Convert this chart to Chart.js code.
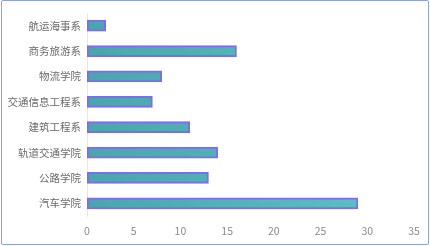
<!DOCTYPE html>
<html><head><meta charset="utf-8">
<script src="https://cdn.jsdelivr.net/npm/chart.js@4/dist/chart.umd.min.js"></script>
<style>
html,body{margin:0;padding:0;background:#fff;}
#wrap{position:relative;width:430px;height:246px;}
#frame{position:absolute;left:1px;top:0;width:426px;height:243px;border:1px solid #8ea2e0;border-radius:2px;pointer-events:none;}
canvas{position:absolute;left:0;top:0;}
</style></head>
<body>
<div id="wrap"><canvas id="c" width="430" height="246"></canvas><div id="frame"></div></div>
<script>
const categories = ['航运海事系','商务旅游系','物流学院','交通信息工程系','建筑工程系','轨道交通学院','公路学院','汽车学院'];
const values = [2,16,8,7,11,14,13,29];
const xTicks = [0,5,10,15,20,25,30,35];

const font = {family:"'Noto Sans CJK SC','Noto Sans',sans-serif", size:10.5};
new Chart(document.getElementById('c'), {
  type:'bar',
  data:{labels:categories, datasets:[{
    data:values,
    backgroundColor:(ctx)=>{
      const a = ctx.chart.chartArea;
      if(!a) return '#52b2b6';
      const g = ctx.chart.ctx.createLinearGradient(a.left,0,a.right,0);
      g.addColorStop(0,'#4aa6aa');
      g.addColorStop(1,'#5fc2c6');
      return g;
    },
    borderColor:'#7b6cf2',
    borderWidth:2,
    borderSkipped:false,
    barThickness:11
  }]},
  options:{
    indexAxis:'y',
    responsive:false,
    animation:false,
    layout:{padding:{top:13,right:16,left:0,bottom:0}},
    plugins:{legend:{display:false},tooltip:{enabled:false}},
    scales:{
      x:{min:0,max:35,
        afterBuildTicks:(s)=>{s.ticks = xTicks.map(v=>({value:v}));},
        grid:{display:false,drawTicks:false},border:{display:false},
        ticks:{color:'#8a8a8a',font:font,padding:9},
        afterFit:(s)=>{s.height=30;}
      },
      y:{grid:{display:false,drawTicks:false},border:{display:true,color:'#e6e6e6',width:1},
        ticks:{color:'#6a6a6a',font:font,padding:6},
        afterFit:(s)=>{s.width=87;}
      }
    }
  }
});
</script>
</body></html>
